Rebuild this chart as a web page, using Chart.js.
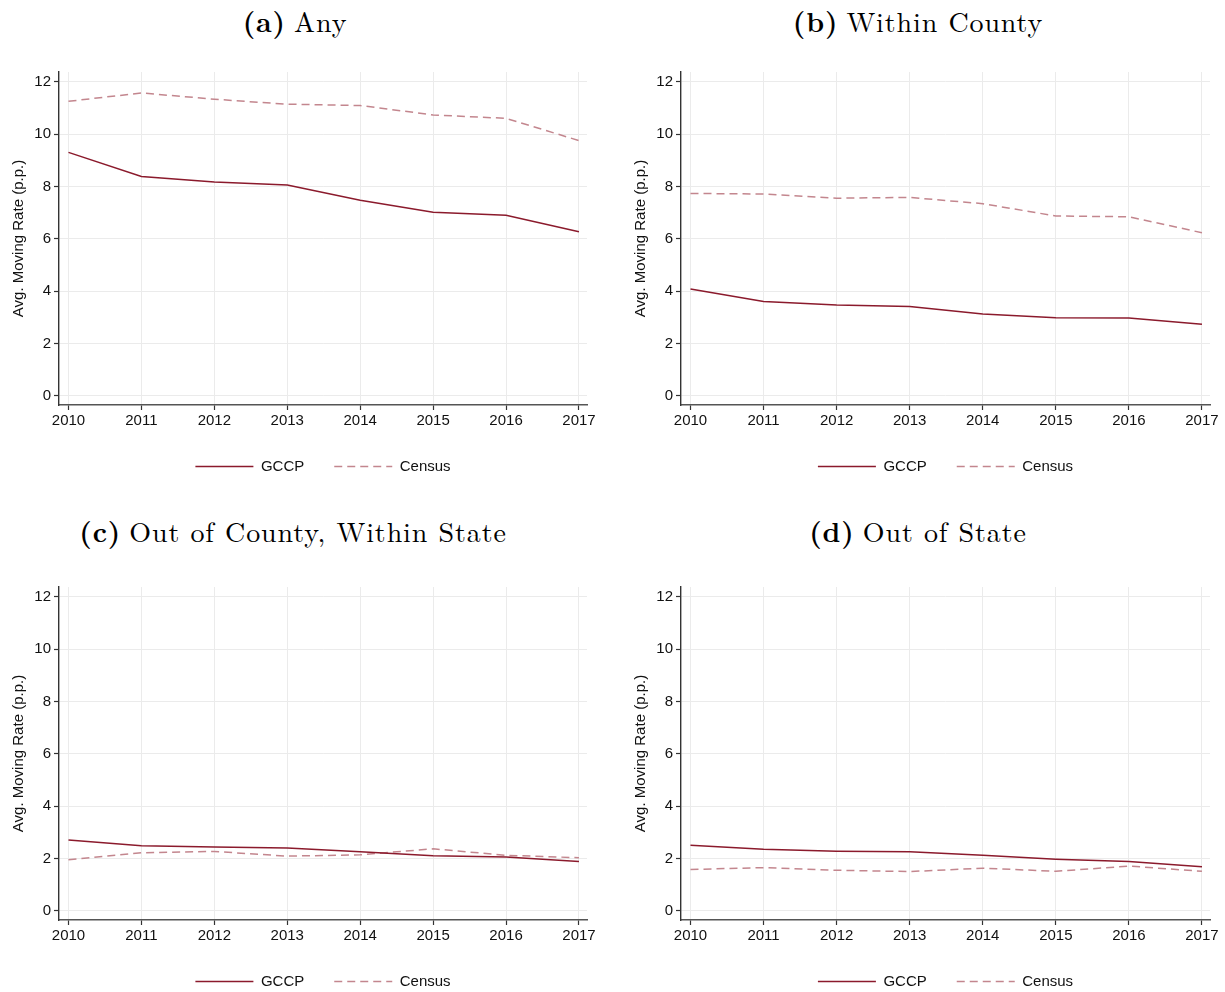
<!DOCTYPE html>
<html>
<head>
<meta charset="utf-8">
<script src="https://cdn.jsdelivr.net/npm/chart.js@4/dist/chart.umd.min.js"></script>
<style>
  html, body { margin: 0; padding: 0; background: #fff; width: 1225px; height: 992px; overflow: hidden; }
  .title { position: absolute; font-family: "Latin Modern Roman", "CMU Serif", "Liberation Serif", serif; font-size: 28px; letter-spacing: 0.9px; line-height: 32px; color: #000; text-align: center; white-space: nowrap; }
  .title b { font-weight: bold; margin-right: 8px; }
  .panel { position: absolute; }
</style>
</head>
<body>
<script>
const years = [2010, 2011, 2012, 2013, 2014, 2015, 2016, 2017];
const yTickValues = [0, 2, 4, 6, 8, 10, 12];
const seriesNames = ["GCCP", "Census"];

const gccpAny = [9.30, 8.38, 8.17, 8.05, 7.47, 7.01, 6.90, 6.27];
const censusAny = [11.25, 11.57, 11.33, 11.14, 11.09, 10.73, 10.60, 9.75];

const gccpWithinCounty = [4.08, 3.60, 3.47, 3.41, 3.13, 2.98, 2.97, 2.73];
const censusWithinCounty = [7.73, 7.71, 7.55, 7.58, 7.34, 6.87, 6.84, 6.23];

const gccpOutCounty = [2.71, 2.49, 2.44, 2.40, 2.26, 2.10, 2.06, 1.88];
const censusOutCounty = [1.95, 2.22, 2.27, 2.09, 2.14, 2.37, 2.12, 2.03];

const gccpOutState = [2.51, 2.35, 2.28, 2.26, 2.12, 1.97, 1.88, 1.68];
const censusOutState = [1.58, 1.65, 1.55, 1.50, 1.63, 1.51, 1.71, 1.51];

const panels = [
  { letter: "(a)", name: "Any", gccp: gccpAny, census: censusAny, left: 0, top: 60, width: 612, titleLeft: 0, titleTop: 4, titleWidth: 590 },
  { letter: "(b)", name: "Within County", gccp: gccpWithinCounty, census: censusWithinCounty, left: 622, top: 60, width: 603, titleLeft: 612, titleTop: 4, titleWidth: 612 },
  { letter: "(c)", name: "Out of County, Within State", gccp: gccpOutCounty, census: censusOutCounty, left: 0, top: 575, width: 612, titleLeft: 0, titleTop: 514, titleWidth: 586 },
  { letter: "(d)", name: "Out of State", gccp: gccpOutState, census: censusOutState, left: 622, top: 575, width: 603, titleLeft: 612, titleTop: 514, titleWidth: 612 }
];

const SOLID = "#8b1a2c";
const DASHED = "#c3868e";
const TXT = "#111";
const GRID = "#ebebeb";
const FONT = "'Liberation Sans', Arimo, Helvetica, Arial, sans-serif";
const H = 430;

// centre the legend under the plot area rather than the whole canvas
const legendUnderPlot = {
  id: "legendUnderPlot",
  afterLayout(chart) {
    const lg = chart.legend;
    if (!lg) return;
    const shift = (chart.chartArea.left + chart.chartArea.right) / 2 - (lg.left + lg.right) / 2;
    lg.left += shift;
    lg.right += shift;
  }
};

panels.forEach((p) => {
  const t = document.createElement("div");
  t.className = "title";
  t.style.left = p.titleLeft + "px";
  t.style.top = p.titleTop + "px";
  t.style.width = p.titleWidth + "px";
  t.innerHTML = "<b>" + p.letter + "</b>" + p.name;
  document.body.appendChild(t);

  const wrap = document.createElement("div");
  wrap.className = "panel";
  wrap.style.left = p.left + "px";
  wrap.style.top = p.top + "px";
  wrap.style.width = p.width + "px";
  wrap.style.height = H + "px";
  const c = document.createElement("canvas");
  wrap.appendChild(c);
  document.body.appendChild(wrap);

  const rightPad = p.width === 612 ? 25 : 15;

  new Chart(c, {
    type: "line",
    plugins: [legendUnderPlot],
    data: {
      datasets: [
        {
          label: seriesNames[0],
          data: years.map((yr, i) => ({ x: yr, y: p.gccp[i] })),
          borderColor: SOLID,
          borderWidth: 1.5,
          pointRadius: 0,
          pointStyle: "line",
          tension: 0,
          fill: false
        },
        {
          label: seriesNames[1],
          data: years.map((yr, i) => ({ x: yr, y: p.census[i] })),
          borderColor: DASHED,
          borderWidth: 1.5,
          borderDash: [8, 5],
          pointRadius: 0,
          pointStyle: "line",
          tension: 0,
          fill: false
        }
      ]
    },
    options: {
      responsive: true,
      maintainAspectRatio: false,
      animation: false,
      events: [],
      layout: { padding: { top: 11, right: rightPad, left: 0, bottom: 6 } },
      plugins: {
        title: { display: false },
        tooltip: { enabled: false },
        legend: {
          display: true,
          position: "bottom",
          labels: {
            usePointStyle: true,
            pointStyleWidth: 58,
            padding: 30,
            color: TXT,
            font: { family: FONT, size: 15 },
            generateLabels: (chart) => {
              const items = Chart.defaults.plugins.legend.labels.generateLabels(chart);
              items.forEach((it, i) => {
                const ds = chart.data.datasets[i];
                it.lineDash = ds.borderDash || [];
                it.strokeStyle = ds.borderColor;
                it.lineWidth = ds.borderWidth;
                it.pointStyle = "line";
              });
              return items;
            }
          }
        }
      },
      scales: {
        x: {
          type: "linear",
          min: 2009.87,
          max: 2017.11,
          afterFit: (s) => { s.height = 24; },
          afterBuildTicks: (s) => { s.ticks = years.map((v) => ({ value: v })); },
          ticks: {
            color: TXT,
            font: { family: FONT, size: 15 },
            padding: 2,
            maxRotation: 0,
            autoSkip: false,
            callback: (v) => String(v)
          },
          grid: { color: GRID, lineWidth: 1, drawTicks: true, tickLength: 5, tickColor: "#333", tickWidth: 1.2 },
          border: { display: true, color: "#555", width: 1.4 }
        },
        y: {
          type: "linear",
          min: -0.35,
          max: 12.37,
          afterFit: (s) => { s.width = 59; },
          afterBuildTicks: (s) => { s.ticks = yTickValues.map((v) => ({ value: v })); },
          ticks: {
            color: TXT,
            font: { family: FONT, size: 15 },
            padding: 3,
            callback: (v) => String(v)
          },
          grid: { color: GRID, lineWidth: 1, drawTicks: true, tickLength: 5, tickColor: "#333", tickWidth: 1.2 },
          border: { display: true, color: "#333", width: 1.4 },
          title: {
            display: true,
            text: "Avg. Moving Rate (p.p.)",
            color: TXT,
            font: { family: FONT, size: 15 },
            padding: { top: 10, bottom: 0 }
          }
        }
      }
    }
  });
});
</script>
</body>
</html>
